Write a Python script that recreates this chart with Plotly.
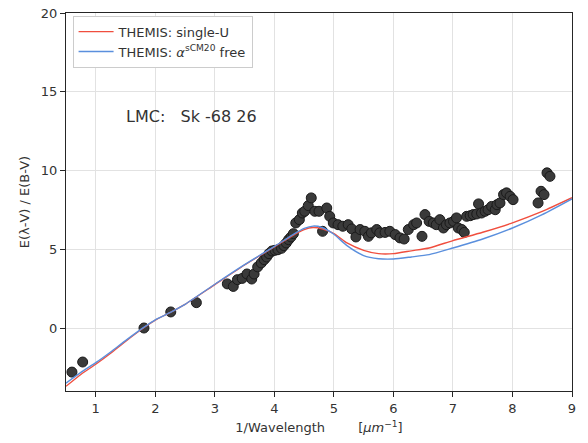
import plotly.graph_objects as go

# Observed extinction curve (LMC: Sk -68 26)
obs_x = [0.60, 0.78, 1.81, 2.26, 2.69, 3.21, 3.31, 3.38, 3.46, 3.54, 3.62, 3.66, 3.72,
         3.78, 3.83, 3.87, 3.91, 3.96, 4.01, 4.06, 4.12, 4.16, 4.20, 4.24, 4.28, 4.32,
         4.36, 4.42, 4.47, 4.51, 4.57, 4.62, 4.68, 4.75, 4.81, 4.88, 4.93, 4.99, 5.07,
         5.15, 5.24, 5.30, 5.37, 5.44, 5.52, 5.58, 5.63, 5.72, 5.77, 5.86, 5.94, 6.03,
         6.11, 6.18, 6.25, 6.34, 6.39, 6.48, 6.53, 6.60, 6.67, 6.72, 6.78, 6.84, 6.89,
         6.95, 7.01, 7.06, 7.09, 7.15, 7.19, 7.23, 7.29, 7.34, 7.40, 7.43, 7.48, 7.54,
         7.59, 7.65, 7.71, 7.74, 7.79, 7.85, 7.90, 7.96, 8.01, 8.43, 8.48, 8.53, 8.58,
         8.63]
obs_y = [-2.80, -2.16, 0.00, 1.02, 1.61, 2.80, 2.64, 3.07, 3.15, 3.43, 3.11, 3.43, 3.88,
         4.13, 4.34, 4.51, 4.72, 4.89, 4.93, 4.97, 5.06, 5.23, 5.40, 5.61, 5.78, 5.99,
         6.67, 6.88, 7.30, 7.41, 7.77, 8.26, 7.41, 7.41, 6.14, 7.62, 7.09, 6.67, 6.56,
         6.46, 6.56, 6.29, 5.78, 6.25, 6.14, 5.82, 6.04, 6.25, 6.04, 6.07, 6.14, 5.93,
         5.72, 5.65, 6.25, 6.56, 6.67, 5.82, 7.20, 6.77, 6.67, 6.56, 6.88, 6.35, 6.56,
         6.67, 6.77, 6.99, 6.35, 6.25, 6.07, 7.09, 7.13, 7.20, 7.24, 7.88, 7.30, 7.41,
         7.51, 7.72, 7.51, 7.83, 7.94, 8.47, 8.58, 8.36, 8.15, 7.94, 8.68, 8.47, 9.85,
         9.63]

# THEMIS models
model_x = [0.5, 0.75, 1.0, 1.25, 1.5, 1.8, 2.0, 2.27, 2.5, 3.0, 3.5, 4.0, 4.3, 4.5,
           4.65, 4.8, 5.0, 5.22, 5.5, 5.75, 6.0, 6.3, 6.6, 7.0, 7.5, 8.0, 8.5, 9.0]
single_u_y = [-3.70, -2.95, -2.30, -1.60, -0.85, 0.00, 0.50, 1.02, 1.50, 2.75, 4.00,
              5.15, 5.85, 6.25, 6.38, 6.30, 6.00, 5.40, 4.93, 4.72, 4.72, 4.90, 5.08,
              5.55, 6.08, 6.68, 7.40, 8.27]
free_y = [-3.50, -2.82, -2.20, -1.52, -0.80, 0.02, 0.52, 1.02, 1.50, 2.78, 4.02,
          5.18, 5.90, 6.32, 6.47, 6.38, 5.95, 5.23, 4.60, 4.40, 4.38, 4.51, 4.66,
          5.08, 5.65, 6.35, 7.20, 8.20]

x_ticks = [1, 2, 3, 4, 5, 6, 7, 8, 9]
y_ticks = [0, 5, 10, 15, 20]

txt = "#333333"
fig = go.Figure()
fig.add_trace(go.Scatter(
    x=obs_x, y=obs_y, mode="markers", showlegend=False,
    marker=dict(size=10, color="#3a3a3a", line=dict(color="#1a1a1a", width=1)),
))
fig.add_trace(go.Scatter(
    x=model_x, y=single_u_y, mode="lines", name="THEMIS: single-U",
    line=dict(color="#f04e3e", width=1.4, shape="spline", smoothing=0.6),
))
fig.add_trace(go.Scatter(
    x=model_x, y=free_y, mode="lines",
    name="THEMIS: <i>α</i><sup>sCM20</sup> free",
    line=dict(color="#5a8fdd", width=1.4, shape="spline", smoothing=0.6),
))

axis_common = dict(
    showline=True, linecolor="#262626", linewidth=1.25, mirror=True,
    ticks="outside", ticklen=5, tickwidth=1.25, tickcolor="#262626",
    showgrid=True, gridcolor="#e2e2e2", gridwidth=1.2, zeroline=False,
    tickfont=dict(size=13, color=txt), ticklabeloverflow="allow",
    automargin=False,
)
fig.update_xaxes(range=[0.5, 9], tickvals=x_ticks,
                 title=dict(text="1/Wavelength" + "\u00a0" * 8 + "[<i>μm</i><sup>−1</sup>]",
                            font=dict(size=13, color=txt), standoff=8),
                 **axis_common)
fig.update_yaxes(range=[-4, 20], tickvals=y_ticks,
                 title=dict(text="E(λ-V) / E(B-V)", font=dict(size=13, color=txt), standoff=8),
                 **axis_common)

fig.add_annotation(x=1.47, y=13.4, xref="x", yref="y", xanchor="left", yanchor="middle",
                   text="LMC:" + "\u00a0" * 3 + "Sk -68 26", showarrow=False,
                   font=dict(size=16, color=txt))

fig.update_layout(
    width=580, height=435,
    margin=dict(l=58, r=16, t=5, b=52, autoexpand=False),
    paper_bgcolor="white", plot_bgcolor="white",
    font=dict(family="DejaVu Sans", color=txt),
    legend=dict(x=0.013, y=0.993, xanchor="left", yanchor="top",
                bgcolor="white", bordercolor="#cccccc", borderwidth=1,
                itemwidth=35,
                font=dict(size=13, color=txt), tracegroupgap=0),
)

fig.write_html("out.html")
